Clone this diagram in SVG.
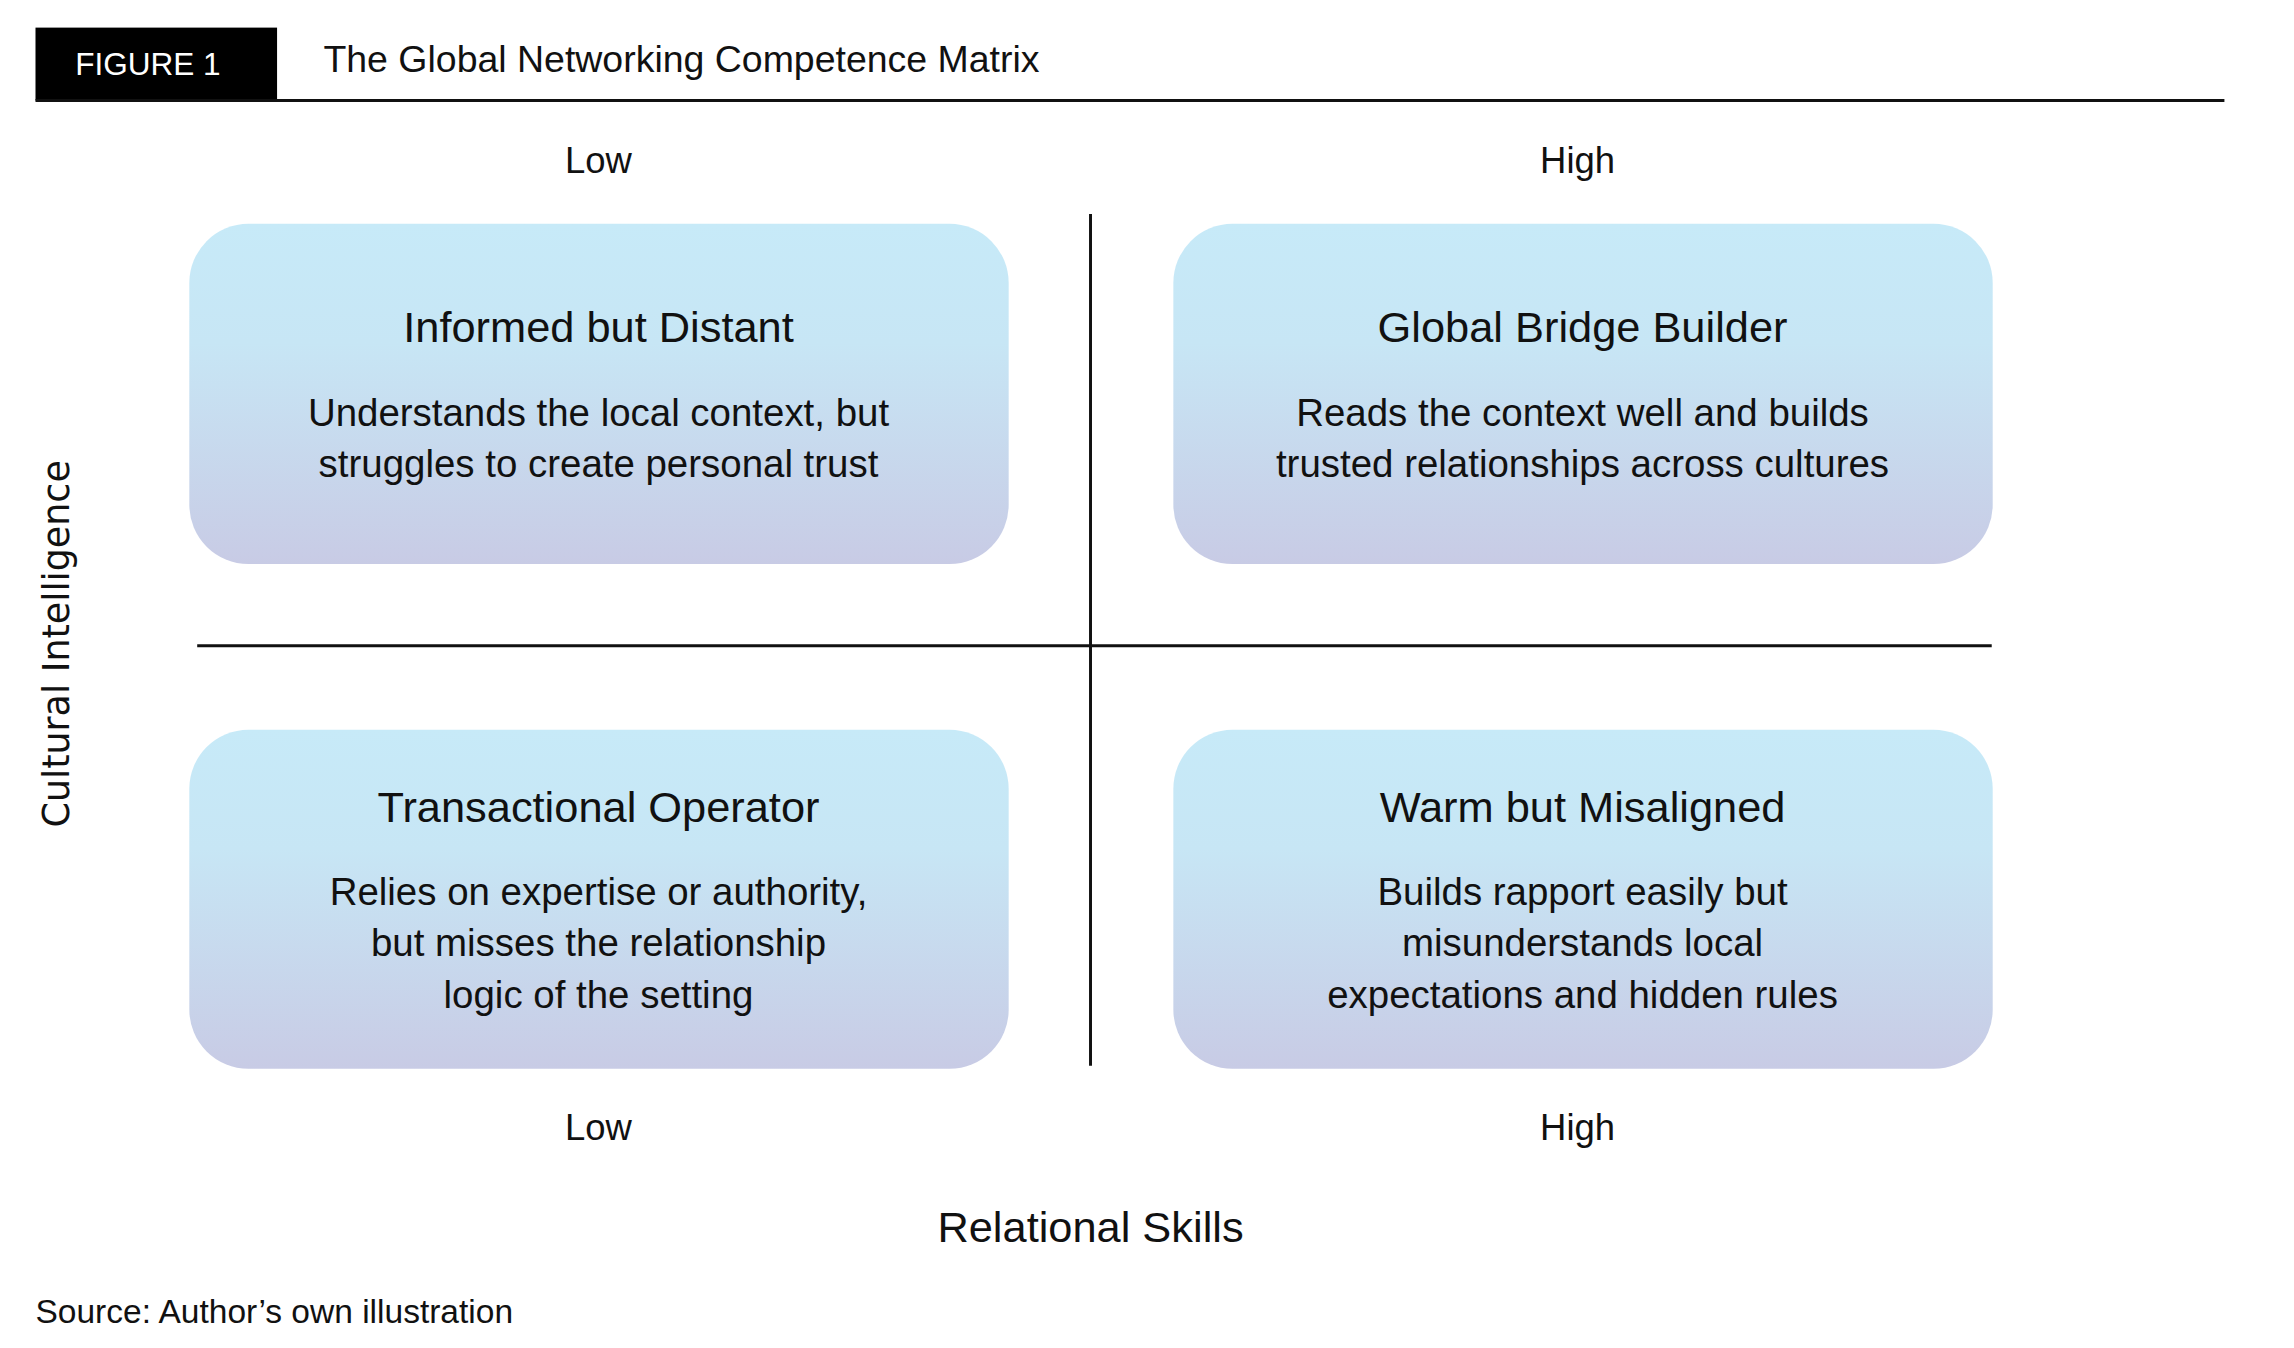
<svg xmlns="http://www.w3.org/2000/svg" width="2294" height="1348" viewBox="0 0 2294 1348">
<defs>
<linearGradient id="g" x1="0" y1="0" x2="0" y2="1">
<stop offset="0" stop-color="#c7eaf8"/><stop offset="0.35" stop-color="#c7e6f5"/><stop offset="1" stop-color="#c8cbe5"/>
</linearGradient>
<style>
text{font-family:"Liberation Sans",Arial,sans-serif;fill:#111;}
.c{text-anchor:middle}
.t{font-size:44px}
.b{font-size:39px}
.a{font-size:37px}
.box{fill:url(#g)}
.ln{stroke:#111;stroke-width:3;fill:none}
</style>
</defs>
<rect width="2294" height="1348" fill="#fff"/>
<g transform="scale(0.986)">
<g id="header">
<rect x="36" y="28" width="245" height="74" fill="#000"/>
<text x="150" y="76" class="c" style="font-size:32px;fill:#fff">FIGURE 1</text>
<text x="328" y="73" style="font-size:38px">The Global Networking Competence Matrix</text>
<line x1="36" y1="102" x2="2256" y2="102" class="ln"/>
</g>
<g id="axes-labels">
<text x="607" y="175" class="c a">Low</text>
<text x="1600" y="175" class="c a">High</text>
<text x="607" y="1156" class="c a">Low</text>
<text x="1600" y="1156" class="c a">High</text>
<text x="1106" y="1260" class="c t">Relational Skills</text>
<text transform="translate(70,653) rotate(-90)" class="c" style="font-family:'DejaVu Sans',sans-serif;font-size:37px">Cultural Intelligence</text>
<text x="36" y="1342" style="font-size:34px">Source: Author’s own illustration</text>
</g>
<g id="connectors">
<line x1="1106" y1="217" x2="1106" y2="1081" class="ln"/>
<line x1="200" y1="655" x2="2020" y2="655" class="ln"/>
</g>
<g id="q1">
<rect x="192" y="227" width="831" height="345" rx="60" class="box"/>
<text x="607" y="347" class="c t">Informed but Distant</text>
<text x="607" y="432" class="c b">Understands the local context, but</text>
<text x="607" y="484" class="c b">struggles to create personal trust</text>
</g>
<g id="q2">
<rect x="1190" y="227" width="831" height="345" rx="60" class="box"/>
<text x="1605" y="347" class="c t">Global Bridge Builder</text>
<text x="1605" y="432" class="c b">Reads the context well and builds</text>
<text x="1605" y="484" class="c b">trusted relationships across cultures</text>
</g>
<g id="q3">
<rect x="192" y="740" width="831" height="344" rx="60" class="box"/>
<text x="607" y="834" class="c t">Transactional Operator</text>
<text x="607" y="918" class="c b">Relies on expertise or authority,</text>
<text x="607" y="970" class="c b">but misses the relationship</text>
<text x="607" y="1022" class="c b">logic of the setting</text>
</g>
<g id="q4">
<rect x="1190" y="740" width="831" height="344" rx="60" class="box"/>
<text x="1605" y="834" class="c t">Warm but Misaligned</text>
<text x="1605" y="918" class="c b">Builds rapport easily but</text>
<text x="1605" y="970" class="c b">misunderstands local</text>
<text x="1605" y="1022" class="c b">expectations and hidden rules</text>
</g>
</g>
</svg>
